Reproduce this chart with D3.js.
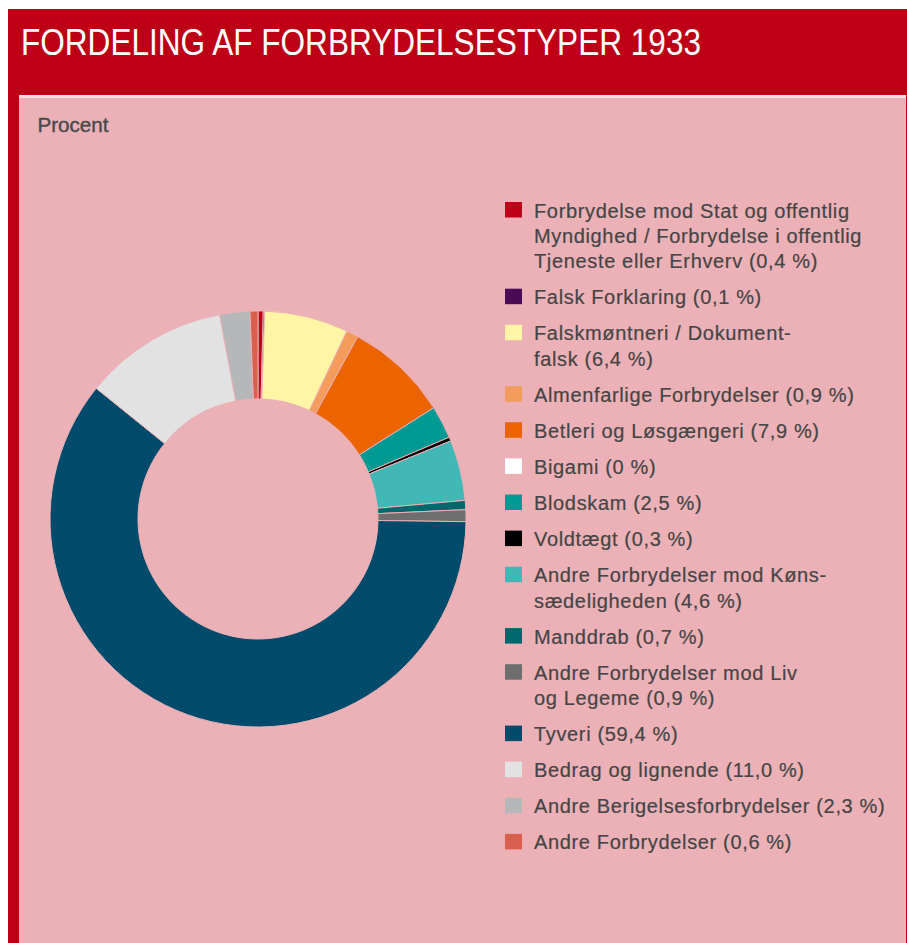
<!DOCTYPE html>
<html>
<head>
<meta charset="utf-8">
<script src="https://cdn.jsdelivr.net/npm/d3@7"></script>
<style>
  html, body { margin: 0; padding: 0; background: #ffffff; }
  svg { display: block; }
</style>
</head>
<body>
<svg id="chart" width="907" height="943"></svg>
<script>
const title = "FORDELING AF FORBRYDELSESTYPER 1933";
const unitLabel = "Procent";

const categories = [
  "Forbrydelse mod Stat og offentlig\nMyndighed / Forbrydelse i offentlig\nTjeneste eller Erhverv",
  "Falsk Forklaring",
  "Falskmøntneri / Dokument-\nfalsk",
  "Almenfarlige Forbrydelser",
  "Betleri og Løsgængeri",
  "Bigami",
  "Blodskam",
  "Voldtægt",
  "Andre Forbrydelser mod Køns-\nsædeligheden",
  "Manddrab",
  "Andre Forbrydelser mod Liv\nog Legeme",
  "Tyveri",
  "Bedrag og lignende",
  "Andre Berigelsesforbrydelser",
  "Andre Forbrydelser"
];

const values = [0.4, 0.1, 6.4, 0.9, 7.9, 0, 2.5, 0.3, 4.6, 0.7, 0.9, 59.4, 11.0, 2.3, 0.6];

const palette = [
  "#c00018", "#4b0a55", "#fff5a5", "#f39c5b", "#eb6400",
  "#ffffff", "#009a93", "#000000", "#41b8b6", "#00676d",
  "#6e6e6e", "#004b6b", "#e1e2e1", "#b5b7b9", "#d9604e"
];

const W = 907, H = 943;
const red = "#bd0016", pink = "#ebb1b6", textCol = "#454545";
const svg = d3.select("#chart");

// frame
svg.append("rect").attr("x", 8).attr("y", 9).attr("width", W - 8).attr("height", H - 9).attr("fill", red);
svg.append("rect").attr("x", 19).attr("y", 95).attr("width", W - 19 - 1).attr("height", 3).attr("fill", "#f6e0e2");
svg.append("rect").attr("x", 19).attr("y", 98).attr("width", W - 19 - 1).attr("height", H - 98).attr("fill", pink);

svg.append("text")
  .attr("x", 21).attr("y", 55)
  .attr("font-family", "'Liberation Sans Narrow', 'Liberation Sans', Arial, sans-serif")
  .attr("font-size", 36)
  .attr("fill", "#ffffff")
  .attr("textLength", 680)
  .attr("lengthAdjust", "spacingAndGlyphs")
  .text(title);

svg.append("text")
  .attr("x", 37.5).attr("y", 132)
  .attr("font-family", "'Liberation Sans', Arial, sans-serif")
  .attr("font-size", 20)
  .attr("fill", "#4a4a4a")
  .attr("stroke", "#4a4a4a")
  .attr("stroke-width", 0.4)
  .attr("textLength", 71)
  .attr("lengthAdjust", "spacingAndGlyphs")
  .text(unitLabel);

// donut
const cx = 258, cy = 519, R = 208, r0 = 120;
const pie = d3.pie().sort(null).value(d => d).startAngle(0).endAngle(2 * Math.PI);
const arc = d3.arc().innerRadius(r0).outerRadius(R);
const color = d3.scaleOrdinal().domain(categories).range(palette);

const g = svg.append("g").attr("transform", `translate(${cx},${cy})`);
g.selectAll("path")
  .data(pie(values))
  .join("path")
  .attr("d", arc)
  .attr("fill", (d, i) => color(categories[i]))
  .attr("stroke", pink)
  .attr("stroke-width", (d) => d.value === 0 ? 0 : 1);

// legend
const fmt = v => (v === 0 ? "0" : v.toFixed(1).replace(".", ",")) + " %";
const lx = 505, tx = 534, lineH = 25.3, gap = 36.1;
let y = 217.5;
const leg = svg.append("g")
  .attr("font-family", "'Liberation Sans', Arial, sans-serif")
  .attr("font-size", 20)
  .attr("letter-spacing", 0.65)
  .attr("fill", textCol)
  .attr("stroke", textCol)
  .attr("stroke-width", 0.2);

categories.forEach((c, i) => {
  const lines = c.split("\n");
  lines[lines.length - 1] += " (" + fmt(values[i]) + ")";
  leg.append("rect")
    .attr("x", lx).attr("y", y - 15.5)
    .attr("width", 17).attr("height", 15.5)
    .attr("stroke", "none")
    .attr("fill", color(c));
  lines.forEach((ln, j) => {
    leg.append("text").attr("x", tx).attr("y", y + j * lineH).text(ln);
  });
  y += (lines.length - 1) * lineH + gap;
});
</script>
</body>
</html>
